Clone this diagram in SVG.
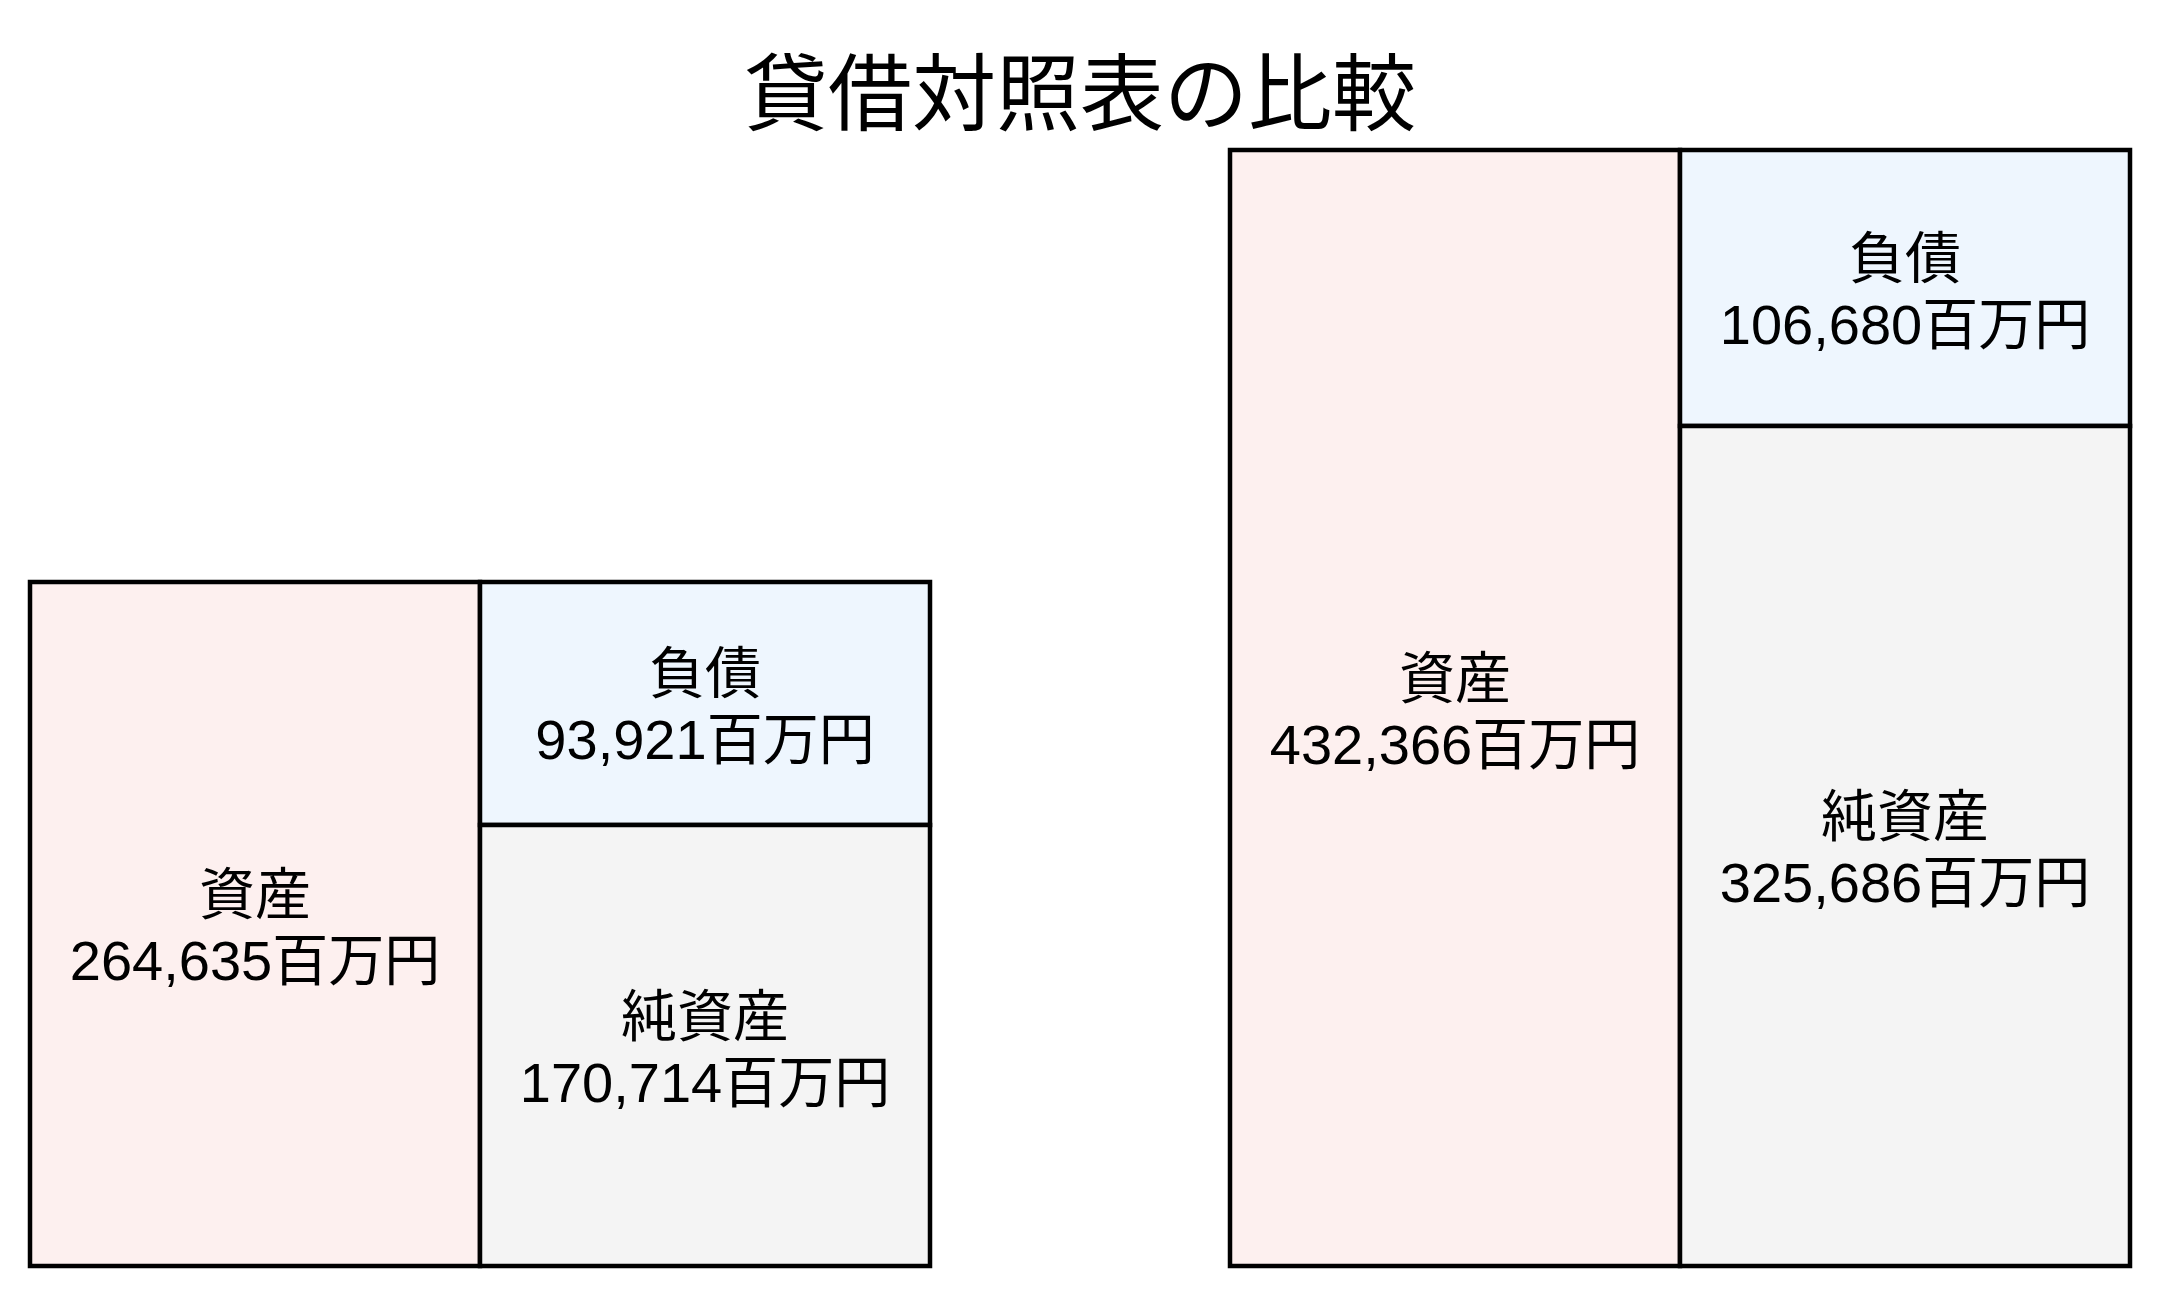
<svg xmlns="http://www.w3.org/2000/svg" width="2160" height="1297" viewBox="0 0 2160 1297">
<style>
  .box { stroke: #000; stroke-width: 4.5; }
  .asset { fill: #fdf0ef; }
  .liab { fill: #eef6fe; }
  .net { fill: #f4f4f4; }
  text { font-family: "Liberation Sans", "Noto Sans CJK JP", sans-serif; fill: #000; text-anchor: middle; }
  .lbl { font-size: 56px; }
  .title { font-size: 84px; }
</style>
<rect x="0" y="0" width="2160" height="1297" fill="#ffffff"/>
<g id="title"><text class="title" x="1080" y="124">貸借対照表の比較</text></g>

<g id="left-assets">
  <rect class="box asset" x="30" y="582" width="450" height="684"/>
  <text class="lbl" x="255" y="914">資産</text>
  <text class="lbl" x="255" y="980">264,635百万円</text>
</g>
<g id="left-liabilities">
  <rect class="box liab" x="480" y="582" width="450" height="243"/>
  <text class="lbl" x="705" y="693">負債</text>
  <text class="lbl" x="705" y="759">93,921百万円</text>
</g>
<g id="left-net-assets">
  <rect class="box net" x="480" y="825" width="450" height="441"/>
  <text class="lbl" x="705" y="1036">純資産</text>
  <text class="lbl" x="705" y="1102">170,714百万円</text>
</g>

<g id="right-assets">
  <rect class="box asset" x="1230" y="150" width="450" height="1116"/>
  <text class="lbl" x="1455" y="698">資産</text>
  <text class="lbl" x="1455" y="764">432,366百万円</text>
</g>
<g id="right-liabilities">
  <rect class="box liab" x="1680" y="150" width="450" height="276"/>
  <text class="lbl" x="1905" y="278">負債</text>
  <text class="lbl" x="1905" y="344">106,680百万円</text>
</g>
<g id="right-net-assets">
  <rect class="box net" x="1680" y="426" width="450" height="840"/>
  <text class="lbl" x="1905" y="836">純資産</text>
  <text class="lbl" x="1905" y="902">325,686百万円</text>
</g>
<g id="connectors"></g>
</svg>
